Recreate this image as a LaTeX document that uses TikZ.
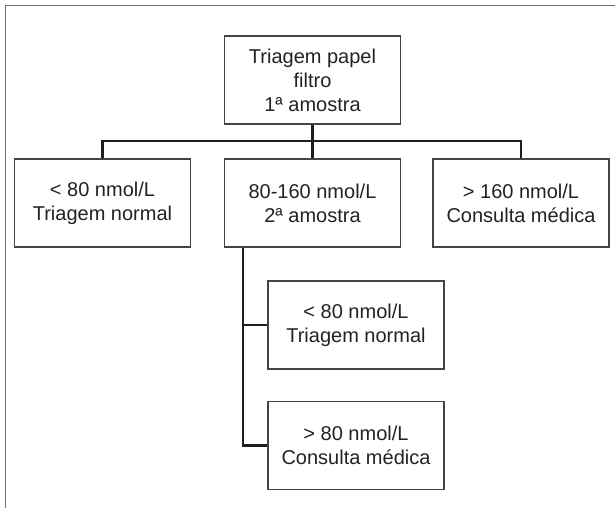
\documentclass[tikz,border=0pt]{standalone}
\usepackage{fontspec}
\setmainfont{Liberation Sans}
\definecolor{txt}{HTML}{222222}
\definecolor{boxline}{HTML}{444444}
\definecolor{frameline}{HTML}{6E6E6E}
\definecolor{connline}{HTML}{1E1E1E}
\tikzset{
  box/.style={draw=boxline, line width=1.3pt, minimum width=176pt, minimum height=88pt,
    inner sep=0pt, align=center, text=txt, font=\fontsize{20}{24}\selectfont},
  conn/.style={draw=connline, line width=2.4pt},
  frame/.style={draw=frameline, line width=1.8pt}
}
\begin{document}
\begin{tikzpicture}[x=1pt,y=-1pt]
\useasboundingbox (0,0) rectangle (615,508);
\coordinate (fbl) at (5.5,508);
\coordinate (ftl) at (5.5,5.5);
\coordinate (ftr) at (615,5.5);
\draw[frame] (fbl) -- (ftl) -- (ftr);

\node[box] (top) at (312.5,80) {Triagem papel\\filtro\\1ª amostra};
\node[box] (b1) at (102.5,203) {< 80 nmol/L\\Triagem normal};
\node[box] (b2) at (312.5,203) {80-160 nmol/L\\2ª amostra};
\node[box] (b3) at (521,203) {> 160 nmol/L\\Consulta médica};
\node[box] (s1) at (356,325) {< 80 nmol/L\\Triagem normal};
\node[box] (s2) at (356,445.5) {> 80 nmol/L\\Consulta médica};

\coordinate (j) at (312.5,141);
\coordinate (v) at ([xshift=-69.5pt]b2.south);
\draw[conn] (top.south) -- (j);
\draw[conn] (j) -| (b1.north);
\draw[conn] (j) -| (b3.north);
\draw[conn] (j) -- (b2.north);
\draw[conn] (v) |- (s2.west);
\draw[conn] (v |- s1.west) -- (s1.west);
\end{tikzpicture}
\end{document}
